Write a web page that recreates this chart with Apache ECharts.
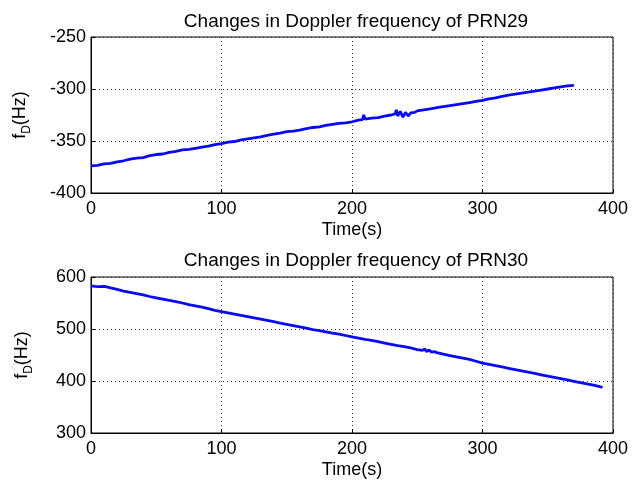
<!DOCTYPE html>
<html>
<head>
<meta charset="utf-8">
<script src="https://cdn.jsdelivr.net/npm/echarts@6/dist/echarts.min.js"></script>
<style>
  html, body { margin: 0; padding: 0; background: #fff; }
  #main { width: 641px; height: 483px; }
</style>
</head>
<body>
<div id="main"></div>
<script>
// PRN29 (top plot)
var timeA = [0, 5, 10, 15, 20, 25, 30, 35, 40, 45, 50, 55, 60, 65, 70, 75, 80, 85, 90, 95,
  100, 105, 110, 115, 120, 125, 130, 135, 140, 145, 150, 155, 160, 165, 170, 175, 180, 185, 190, 195,
  200, 205, 208, 209, 210, 215, 220, 225, 230, 233, 234, 235, 237, 239, 241, 243, 245, 248,
  250, 255, 260, 265, 270, 275, 280, 285, 290, 295, 300, 305, 310, 315, 320, 325, 330, 335, 340, 345,
  350, 355, 360, 365, 370];
var freqA = [-374, -373.5, -372, -371.5, -370, -369, -367.5, -366.5, -366, -364, -363, -362.5, -361, -360, -358.5, -358, -357, -356, -355, -353.5,
  -352.5, -351, -350.5, -349, -348, -347, -346, -344.5, -343.5, -342.5, -341, -340.5, -339.5, -338, -337, -336.5, -335, -334, -333, -332.5,
  -331.5, -330, -329.5, -325, -329, -328, -327.5, -326, -325, -324, -320, -326, -321.5, -327, -322.5, -326, -323, -322.5,
  -321, -320, -319, -318, -317, -316, -315, -314, -313, -312, -311, -309.5, -308.5, -307, -306, -305, -304, -303, -302, -301,
  -300, -299, -298, -297, -296.5];

// PRN30 (bottom plot)
var timeB = [0, 3, 6, 10, 12, 15, 20, 25, 30, 35, 40, 45, 50, 55, 60, 65, 70, 75, 80, 85, 90, 95,
  100, 105, 110, 115, 120, 125, 130, 135, 140, 145, 150, 155, 160, 165, 170, 175, 180, 185, 190, 195,
  200, 205, 210, 215, 220, 225, 230, 235, 240, 245, 250, 254, 256, 257, 259, 261, 263, 265, 270, 275,
  280, 285, 290, 295, 300, 305, 310, 315, 320, 325, 330, 335, 340, 345, 350, 355, 360, 365, 370, 375,
  380, 385, 390, 392];
var freqB = [583, 582, 581.5, 582, 581, 579, 576, 573, 570.5, 568, 565.5, 562.5, 560, 557.5, 555, 552.5, 550, 547, 544.5, 542, 539, 536,
  533.5, 531, 528.5, 526, 524, 521.5, 519, 516.5, 514, 511.5, 509, 506.5, 504, 501.5, 499, 497, 494.5, 492, 490, 487.5,
  485, 482.5, 480, 478, 475.5, 473, 470.5, 468, 466, 463.5, 460.5, 459, 461.5, 456.5, 459.5, 455.5, 456.5, 454.5, 451.5, 449,
  446.5, 444, 441.5, 438, 434.5, 432, 429.5, 427, 424.5, 422, 419.5, 417, 414.5, 412, 409.5, 407, 404.5, 402, 399.5, 397,
  394.5, 392, 389, 387.5];

var xTicks = [0, 400, 100];
var yTicksA = [-400, -250, 50];
var yTicksB = [300, 600, 100];

var font = 'Liberation Sans, Arial, sans-serif';
var lineColor = '#0a0af2';

function yName() {
  return {
    name: '{a|f}{b|D}{a|(Hz)}',
    nameLocation: 'middle',
    nameRotate: 90,
    nameTextStyle: {
      rich: {
        a: { fontFamily: font, fontSize: 18, color: '#000', lineHeight: 26, verticalAlign: 'middle' },
        b: { fontFamily: font, fontSize: 12, color: '#000', lineHeight: 26, verticalAlign: 'bottom' }
      }
    }
  };
}

function xAxis(idx) {
  return {
    type: 'value', gridIndex: idx,
    min: xTicks[0], max: xTicks[1], interval: xTicks[2],
    name: 'Time(s)', nameLocation: 'middle', nameGap: 28,
    nameTextStyle: { fontFamily: font, fontSize: 18, color: '#000' },
    axisLine: { show: true, onZero: false, lineStyle: { color: '#000', width: 1 } },
    axisTick: { show: true, inside: true, length: 4, lineStyle: { color: '#000' } },
    axisLabel: { fontFamily: font, fontSize: 18, color: '#000', margin: 7 },
    splitLine: { show: true, lineStyle: { color: '#333', type: [1, 3], width: 1 } }
  };
}

function yAxis(idx, t, gap) {
  var n = yName();
  return {
    type: 'value', gridIndex: idx,
    min: t[0], max: t[1], interval: t[2],
    name: n.name, nameLocation: n.nameLocation, nameRotate: n.nameRotate,
    nameTextStyle: n.nameTextStyle, nameGap: gap,
    axisLine: { show: true, onZero: false, lineStyle: { color: '#000', width: 1 } },
    axisTick: { show: true, inside: true, length: 4, lineStyle: { color: '#000' } },
    axisLabel: { fontFamily: font, fontSize: 18, color: '#000', margin: 5 },
    splitLine: { show: true, lineStyle: { color: '#333', type: [1, 3], width: 1 } }
  };
}

var chart = echarts.init(document.getElementById('main'));

chart.setOption({
  backgroundColor: '#fff',
  animation: false,
  title: [
    { text: 'Changes in Doppler frequency of PRN29', left: 351, top: 7, textAlign: 'center',
      textStyle: { fontFamily: font, fontSize: 19, fontWeight: 'normal', color: '#000' } },
    { text: 'Changes in Doppler frequency of PRN30', left: 351, top: 246, textAlign: 'center',
      textStyle: { fontFamily: font, fontSize: 19, fontWeight: 'normal', color: '#000' } }
  ],
  grid: [
    { left: 91, right: 28, top: 37, height: 156, show: true, borderColor: '#000', borderWidth: 1 },
    { left: 91, right: 28, top: 277, height: 156, show: true, borderColor: '#000', borderWidth: 1 }
  ],
  xAxis: [xAxis(0), xAxis(1)],
  yAxis: [yAxis(0, yTicksA, 58), yAxis(1, yTicksB, 56)],
  series: [
    {
      type: 'line', xAxisIndex: 0, yAxisIndex: 0, showSymbol: false,
      data: timeA.map(function (t, i) { return [t, freqA[i]]; }),
      lineStyle: { color: lineColor, width: 2.8 }
    },
    {
      type: 'line', xAxisIndex: 1, yAxisIndex: 1, showSymbol: false,
      data: timeB.map(function (t, i) { return [t, freqB[i]]; }),
      lineStyle: { color: lineColor, width: 2.8 }
    }
  ]
});
</script>
</body>
</html>
